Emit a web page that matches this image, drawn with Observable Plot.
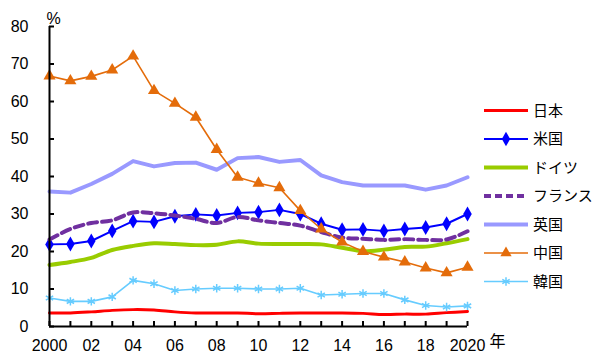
<!DOCTYPE html>
<html><head><meta charset="utf-8">
<script src="https://cdn.jsdelivr.net/npm/d3@7"></script>
<script src="https://cdn.jsdelivr.net/npm/@observablehq/plot@0.6"></script>
<style>
body{margin:0;background:#fff;font-family:"Liberation Sans",Arial,sans-serif;}
#wrap{position:relative;width:600px;height:360px;}
#legend{position:absolute;left:0;top:0;}
</style></head>
<body><div id="wrap"></div>
<script>
const years = [2000,2001,2002,2003,2004,2005,2006,2007,2008,2009,2010,2011,2012,2013,2014,2015,2016,2017,2018,2019,2020];
const yTicks = [0,10,20,30,40,50,60,70,80];
const xLabelYears = [2000,2002,2004,2006,2008,2010,2012,2014,2016,2018,2020];
const xLabels = ["2000","02","04","06","08","10","12","14","16","18","2020"];

const japan   = [3.6,3.6,3.9,4.3,4.5,4.4,3.9,3.6,3.6,3.6,3.4,3.5,3.6,3.6,3.6,3.5,3.2,3.3,3.3,3.7,4.0];
const us      = [21.9,22.0,22.8,25.5,28.1,27.9,29.4,29.9,29.6,30.3,30.5,31.1,30.0,27.4,25.8,25.9,25.5,26.0,26.4,27.4,30.0];
const germany = [16.4,17.2,18.3,20.4,21.5,22.2,22.0,21.7,21.8,22.7,22.1,22.0,22.0,21.9,21.0,20.1,20.5,21.2,21.3,22.2,23.3];
const france  = [23.2,26.0,27.6,28.3,30.4,30.2,29.6,28.7,27.6,29.2,28.3,27.6,26.9,25.2,23.7,23.4,23.1,23.3,23.1,23.2,25.4];
const uk      = [36.0,35.7,38.0,40.7,44.1,42.7,43.6,43.7,41.8,44.9,45.2,43.9,44.4,40.3,38.5,37.6,37.6,37.6,36.5,37.6,39.8];
const china   = [66.8,65.5,66.7,68.4,72.1,62.9,59.5,55.8,47.2,39.8,38.2,37.0,30.9,26.0,22.5,20.0,18.5,17.2,15.6,14.3,15.8];
const korea   = [7.6,6.7,6.7,7.9,12.3,11.4,9.6,10.0,10.2,10.2,10.0,10.0,10.2,8.4,8.6,8.8,8.8,7.1,5.6,5.2,5.5];

const seriesNames = ["日本","米国","ドイツ","フランス","英国","中国","韓国"];
const seriesValues = [japan, us, germany, france, uk, china, korea];
const styles = [
  {color:"#ff0000", width:3, curve:"catmull-rom"},
  {color:"#0000ff", width:2, curve:"linear", symbol:"diamond", r:4.5},
  {color:"#99cc00", width:4, curve:"catmull-rom"},
  {color:"#7030a0", width:4, curve:"catmull-rom", dash:"9,5"},
  {color:"#9999ff", width:4, curve:"linear"},
  {color:"#e46c0a", width:1.6, curve:"linear", symbol:"triangle", r:4.5},
  {color:"#66ccff", width:1.6, curve:"linear", symbol:"asterisk", r:4}
];

const rows = [];
seriesNames.forEach((name, i) => years.forEach((yr, j) => rows.push({name, year: yr, value: seriesValues[i][j]})));

const marks = [];
seriesNames.forEach((name, i) => {
  const s = styles[i];
  const d = rows.filter(r => r.name === name);
  marks.push(Plot.line(d, {x:"year", y:"value", stroke:s.color, strokeWidth:s.width, curve:s.curve, strokeDasharray:s.dash}));
  if (s.symbol) {
    if (s.symbol === "asterisk")
      marks.push(Plot.dot(d, {x:"year", y:"value", symbol:"asterisk", r:s.r, stroke:s.color, strokeWidth:1.5}));
    else
      marks.push(Plot.dot(d, {x:"year", y:"value", symbol:s.symbol, r:s.r, fill:s.color, stroke:"none"}));
  }
});

const chart = Plot.plot({
  width:600, height:360,
  marginLeft:49, marginRight:133, marginTop:26, marginBottom:34,
  style:{fontFamily:'"Liberation Sans",Arial,sans-serif', fontSize:"16px", color:"#000", background:"#fff", overflow:"visible"},
  x:{domain:[2000,2020], label:null},
  y:{domain:[0,80], label:null},
  marks:[
    ...marks,
    Plot.ruleX([2000], {stroke:"#000", strokeWidth:2}),
    Plot.ruleY([0], {stroke:"#000", strokeWidth:2}),
    Plot.axisY(yTicks, {tickSize:-5, tickFormat:() => "", strokeWidth:2, stroke:"#000"}),
    Plot.axisY(yTicks, {tickSize:0, tickPadding:21, fontSize:16, fill:"#000"}),
    Plot.axisX(years, {tickSize:-5, tickFormat:() => "", strokeWidth:2, stroke:"#000"}),
    Plot.axisX(xLabelYears, {tickSize:0, tickPadding:13, fontSize:16, fill:"#000", tickFormat:(d) => xLabels[xLabelYears.indexOf(d)]}),
    Plot.text(["%"], {frameAnchor:"top-left", dx:-3, dy:-14, fontSize:16, fill:"#000", textAnchor:"start"}),
    Plot.text(["年"], {frameAnchor:"bottom-right", dx:30, dy:20, fontSize:16, fill:"#000", textAnchor:"middle", fontFamily:'"Noto Sans CJK JP",sans-serif'})
  ]
});
const wrap = document.getElementById("wrap");
wrap.appendChild(chart);

// Legend
const lg = d3.select(wrap).append("svg").attr("id","legend").attr("width",600).attr("height",360);
seriesNames.forEach((name, i) => {
  const s = styles[i];
  const y = 110.5 + i * 28.5;
  lg.append("line").attr("x1",484).attr("x2",528).attr("y1",y).attr("y2",y)
    .attr("stroke",s.color).attr("stroke-width",s.width).attr("stroke-dasharray", s.dash ? "7,4" : null);
  if (s.symbol) {
    const sym = {diamond:d3.symbolDiamond, triangle:d3.symbolTriangle, asterisk:d3.symbolAsterisk}[s.symbol];
    const p = lg.append("path").attr("transform",`translate(506,${y})`)
      .attr("d", d3.symbol(sym, s.symbol === "asterisk" ? 50 : (s.symbol === "diamond" ? 60 : 55))());
    if (s.symbol === "asterisk") p.attr("fill","none").attr("stroke",s.color).attr("stroke-width",1.5);
    else p.attr("fill",s.color);
  }
  lg.append("text").attr("x",533).attr("y",y).attr("dy","0.36em")
    .attr("font-family",'"Noto Sans CJK JP",sans-serif').attr("font-size",15).attr("fill","#000").text(name);
});
</script></body></html>
